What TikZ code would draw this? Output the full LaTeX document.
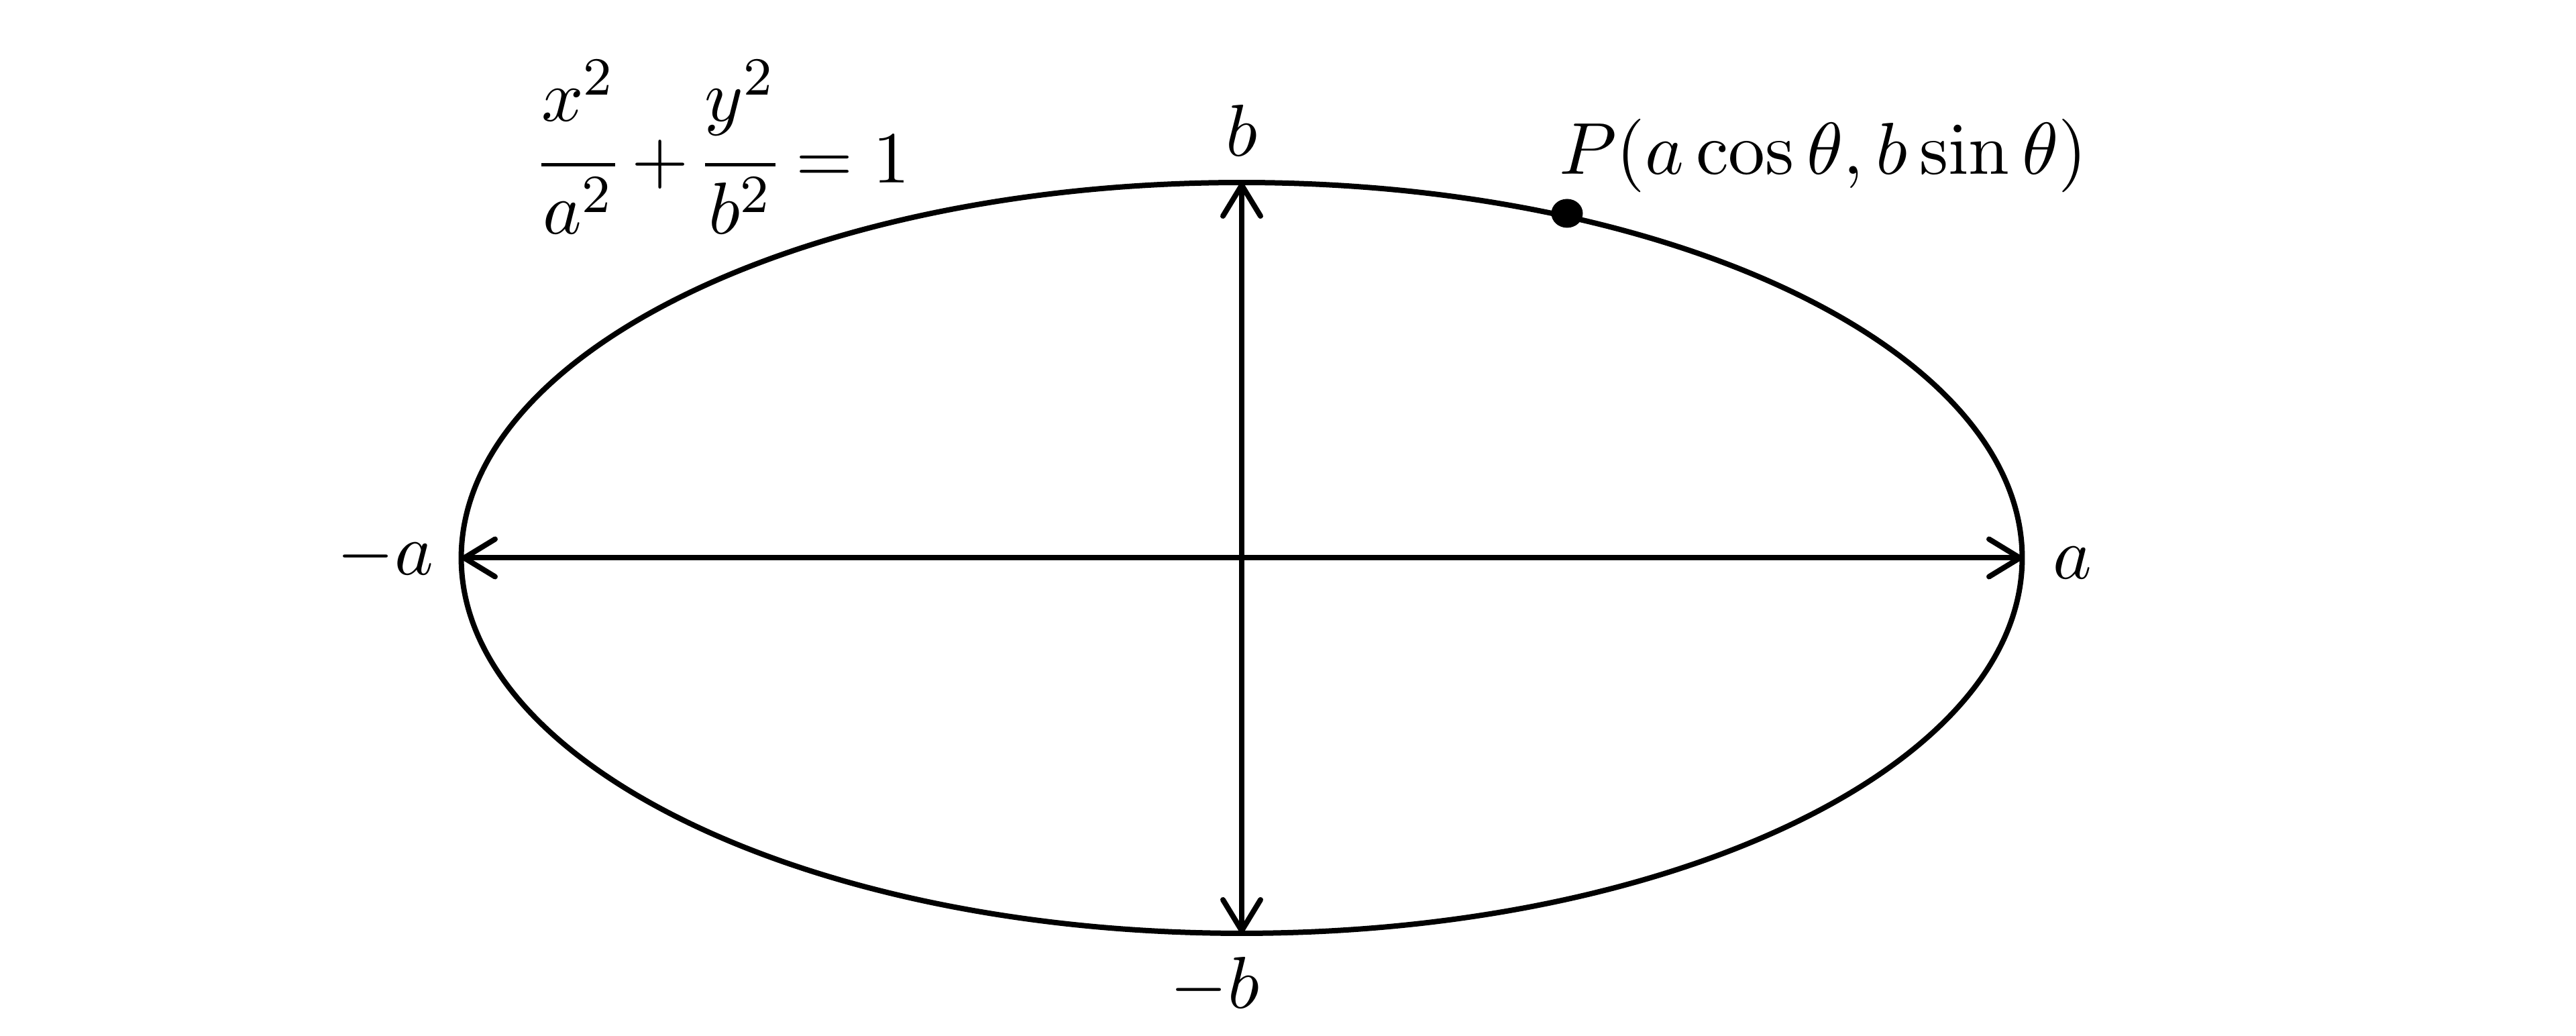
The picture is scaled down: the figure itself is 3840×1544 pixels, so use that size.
\documentclass[tikz,border=0pt]{standalone}
\usepackage{amsmath}
\usetikzlibrary{arrows.meta}
\newcommand{\upnum}[1]{\raisebox{1.8pt}{$#1$}}
\begin{document}
\begin{tikzpicture}[x=0.1pt,y=-0.1pt,
  curve/.style={line width=0.8pt},
  axisarrow/.style={line width=0.8pt,line cap=round,
    {Straight Barb[length=4.6pt,width=5.6pt,round]}-{Straight Barb[length=4.6pt,width=5.6pt,round]}},
  lbl/.style={inner sep=0pt,font=\fontsize{11}{13}\selectfont}]
\useasboundingbox[fill=white] (0,0) rectangle (3840,1544);
\coordinate (O) at (1851,831.5);
\coordinate (L) at (688,831.5);
\coordinate (R) at (3015,831.5);
\coordinate (T) at (1851,272);
\coordinate (B) at (1851,1391);
\coordinate (P) at (2336,318);
\draw[curve] (O) ellipse [x radius=116.35pt, y radius=55.95pt];
\draw[axisarrow] (L) -- (R);
\draw[axisarrow] (T) -- (B);
\fill (P) ellipse [x radius=2.35pt, y radius=2.15pt];
\node[lbl,anchor=base] (lb) at (1851,233) {$b$};
\node[lbl,anchor=base] (lmb) at (1811,1503) {$-b$};
\node[lbl,anchor=base east] (lma) at (648,857) {$-a$};
\node[lbl,anchor=base west] (la) at (3058,863) {$a$};
\node[lbl,anchor=base west] (lp) at (2322,260) {$P(a\cos\theta, b\sin\theta)$};
\node[lbl,anchor=base west] (leq) at (805,273) {\nulldelimiterspace=0pt$\dfrac{\upnum{x^2}}{a^2}+\dfrac{\upnum{y^2}}{b^2}=1$};
\end{tikzpicture}
\end{document}
